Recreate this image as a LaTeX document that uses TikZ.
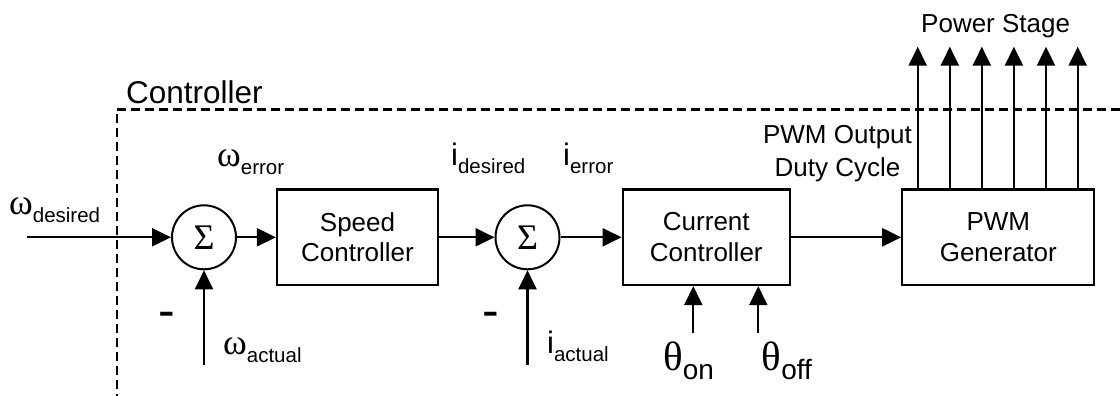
\documentclass[tikz,border=0pt]{standalone}
\usepackage{fontspec}
\setmainfont{Liberation Sans}
\newfontfamily\grk{Liberation Serif}
\usetikzlibrary{arrows.meta}
\newcommand\wlab[1]{{\grk\fontsize{36}{36}\selectfont ω}\raisebox{-8pt}{\fontsize{20.5}{20.5}\selectfont #1}}
\newcommand\ilab[1]{{\fontsize{31}{31}\selectfont i}\raisebox{-8pt}{\fontsize{20.5}{20.5}\selectfont #1}}
\newcommand\tlab[1]{{\grk\fontsize{41}{41}\selectfont θ}\raisebox{-9pt}{\fontsize{28}{28}\selectfont #1}}
\newcommand\sigm{{\grk\fontsize{36}{36}\selectfont Σ}}
\begin{document}
\begin{tikzpicture}[x=1pt,y=-1pt,
  blk/.style={draw, line width=2.2pt, inner sep=0pt, minimum height=95.5pt, align=center,
    font=\fontsize{26}{30.6}\selectfont},
  sumnode/.style={draw, circle, line width=2pt, inner sep=0pt, minimum size=64pt},
  arr/.style={-{Triangle[length=19pt,width=18pt]}, line width=2.2pt},
  lab/.style={anchor=base west, inner sep=0pt},
  txt/.style={inner sep=0pt, font=\fontsize{26}{33.4}\selectfont},
  minus/.style={anchor=base, inner sep=0pt, font=\fontsize{50}{50}\selectfont},
  bound/.style={dash pattern=on 9pt off 5pt, line width=2.6pt}]
\useasboundingbox (0,0) rectangle (1120,396);

% controller boundary
\coordinate (bTop) at (1120,109.3);
\coordinate (bCorner) at (117,109.3);
\coordinate (bBot) at (117,396);
\draw[bound] (bTop) -- (bCorner) -- (bBot);
\node[lab, font=\fontsize{31.5}{31.5}\selectfont] (ctl) at (126,103.3) {Controller};

% blocks
\node[sumnode] (s1) at (204,237.3) {\sigm};
\node[blk, minimum width=161pt] (speed) at (357.5,237.3) {Speed\\Controller};
\node[sumnode] (s2) at (527.5,237.3) {\sigm};
\node[blk, minimum width=167.3pt] (cur) at (706.3,237.3) {Current\\Controller};
\node[blk, minimum width=192pt] (pwm) at (998.3,237.3) {PWM\\Generator};

% inputs
\coordinate (in) at (27,237.3);
\coordinate (fb1) at (204,365);
\coordinate (fb2) at (527.5,365);
\coordinate (th1) at (693.3,333);
\coordinate (th2) at (758.3,333);

\draw[arr] (in) -- (s1);
\draw[arr] (s1) -- (speed);
\draw[arr] (speed) -- (s2);
\draw[arr] (s2) -- (cur);
\draw[arr] (cur) -- (pwm);
\draw[arr] (fb1) -- (s1);
\draw[arr] (fb2) -- (s2);
\draw[arr] (th1) -- (th1 |- cur.south);
\draw[arr] (th2) -- (th2 |- cur.south);

% power stage outputs
\foreach \i/\x in {1/917.7,2/949.8,3/981.8,4/1013.9,5/1046,6/1077.7}{
  \coordinate (o\i) at (\x,46.7);
  \draw[arr] (o\i |- pwm.north) -- (o\i);
}
\node[lab, font=\fontsize{26}{26}\selectfont] (ps) at (921,33) {Power Stage};

% labels
\node[lab] (wd) at (9,214) {\wlab{desired}};
\node[lab] (we) at (217,166) {\wlab{error}};
\node[lab] (wa) at (223,354) {\wlab{actual}};
\node[lab] (id) at (451,165) {\ilab{desired}};
\node[lab] (ie) at (563,165) {\ilab{error}};
\node[lab] (ia) at (547,353) {\ilab{actual}};
\node[lab] (ton) at (663,370) {\tlab{on}};
\node[lab] (toff) at (761.5,370) {\tlab{off}};
\node[txt, align=center, anchor=base] (duty) at (837.5,176.7) {PWM Output\\Duty Cycle};
\node[minus] (m1) at (167,327.4) {-};
\node[minus] (m2) at (490.7,327) {-};
\end{tikzpicture}
\end{document}
